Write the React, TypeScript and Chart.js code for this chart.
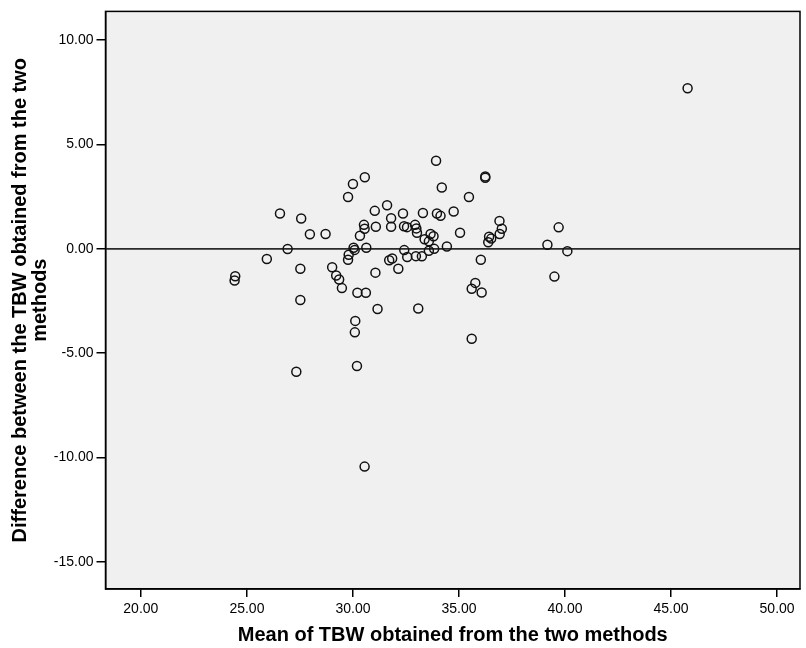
import React, { useEffect, useRef } from "react";
import { Chart, registerables } from "chart.js";

Chart.register(...registerables);

// Mean of TBW obtained from the two methods (x)
const meanValues = [
  24.45, 24.42, 25.94, 26.56, 26.92, 27.56, 27.52, 27.52, 27.33, 27.97,
  28.71, 29.02, 29.21, 29.35, 29.48, 29.77, 30.0, 30.56, 29.8, 29.77,
  30.03, 30.08, 30.63, 30.33, 30.52, 30.55, 31.03, 31.08, 31.61, 31.8,
  31.8, 31.71, 31.85, 32.14, 31.06, 31.16, 30.21, 30.61, 30.11, 30.09,
  30.19, 32.36, 32.41, 32.55, 32.93, 32.99, 33.02, 32.42, 32.56, 32.97,
  33.25, 33.08, 33.3, 33.66, 33.8, 33.38, 33.58, 33.83, 33.58, 33.92,
  34.19, 33.96, 34.13, 34.75, 34.43, 35.05, 35.47, 36.24, 36.24, 36.03,
  35.77, 35.6, 36.07, 35.6, 36.38, 36.42, 36.52, 36.91, 37.02, 36.92,
  39.17, 39.7, 40.11, 39.5, 30.55, 45.78,
];

// Difference between the TBW obtained from the two methods (y)
const diffValues = [
  -1.31, -1.52, -0.49, 1.69, -0.01, 1.45, -0.95, -2.45, -5.89, 0.7,
  0.71, -0.88, -1.28, -1.47, -1.88, 2.48, 3.11, 3.43, -0.28, -0.52,
  0.05, -0.05, 0.05, 0.63, 1.15, 0.96, 1.82, 1.06, 2.09, 1.47,
  1.06, -0.55, -0.46, -0.95, -1.14, -2.88, -2.1, -2.1, -3.45, -4.0,
  -5.61, 1.69, 1.08, 1.04, 1.15, 0.98, 0.77, -0.06, -0.39, -0.35,
  -0.36, -2.86, 1.72, 0.71, 0.6, 0.46, 0.36, 0.0, -0.09, 4.22,
  2.94, 1.69, 1.58, 1.79, 0.11, 0.77, 2.48, 3.47, 3.4, -0.52,
  -1.63, -1.91, -2.09, -4.31, 0.32, 0.58, 0.49, 1.34, 0.96, 0.71,
  0.2, 1.03, -0.11, -1.33, -10.43, 7.69,
];

const xTickValues = [20, 25, 30, 35, 40, 45, 50];
const yTickValues = [-15, -10, -5, 0, 5, 10];
const referenceLineValue = 0;

const xTitle = "Mean of TBW obtained from the two methods";
const yTitle = ["Difference between the TBW obtained from the two", "methods"];

const FONT = "'Liberation Sans', Arial, sans-serif";

const framePlugin = {
  id: "frame",
  beforeDraw(chart: any) {
    const { ctx, chartArea: a } = chart;
    ctx.save();
    ctx.fillStyle = "#f0f0f0";
    ctx.fillRect(a.left, a.top, a.right - a.left, a.bottom - a.top);
    ctx.restore();
  },
  beforeDatasetsDraw(chart: any) {
    const { ctx, chartArea: a, scales } = chart;
    const y = scales.y.getPixelForValue(referenceLineValue);
    ctx.save();
    ctx.strokeStyle = "#2a2a2a";
    ctx.lineWidth = 1.6;
    ctx.beginPath();
    ctx.moveTo(a.left, y);
    ctx.lineTo(a.right, y);
    ctx.stroke();
    ctx.restore();
  },
  afterDatasetsDraw(chart: any) {
    const { ctx, chartArea: a } = chart;
    ctx.save();
    ctx.strokeStyle = "#000";
    ctx.lineWidth = 1.5;
    ctx.strokeRect(a.left, a.top, a.right - a.left, a.bottom - a.top);
    ctx.restore();
  },
};

export default function App() {
  const ref = useRef<HTMLCanvasElement>(null);

  useEffect(() => {
    if (!ref.current) return;
    const points = meanValues.map((m, i) => ({ x: m, y: diffValues[i] }));
    const chart = new Chart(ref.current, {
      type: "scatter",
      data: {
        datasets: [
          {
            data: points,
            pointStyle: "circle",
            pointRadius: 4.5,
            pointBorderWidth: 1.5,
            pointBorderColor: "#111",
            pointBackgroundColor: "rgba(0,0,0,0)",
          },
        ],
      },
      options: {
        responsive: false,
        animation: false,
        layout: { padding: { top: 5, right: 3, left: 0, bottom: 0 } },
        plugins: {
          legend: { display: false },
          tooltip: { enabled: false },
        },
        scales: {
          x: {
            type: "linear",
            min: 18.333,
            max: 51.08,
            afterBuildTicks: (s: any) => {
              s.ticks = xTickValues.map((v) => ({ value: v }));
            },
            afterFit: (s: any) => {
              s.height = 59;
            },
            grid: {
              drawOnChartArea: false,
              drawTicks: true,
              tickLength: 8,
              color: "#000",
              lineWidth: 1.5,
            },
            border: { display: true, color: "#000", width: 1.5 },
            ticks: {
              autoSkip: false,
              maxRotation: 0,
              padding: 4,
              color: "#000",
              font: { family: FONT, size: 14 },
              callback: (v: any) => Number(v).toFixed(2),
            },
            title: {
              display: true,
              text: xTitle,
              color: "#000",
              font: { family: FONT, size: 20, weight: "bold", lineHeight: 1 },
              padding: { top: 0, bottom: 3 },
            },
          },
          y: {
            type: "linear",
            min: -16.293,
            max: 11.374,
            afterBuildTicks: (s: any) => {
              s.ticks = yTickValues.map((v) => ({ value: v }));
            },
            afterFit: (s: any) => {
              s.width = 105.5;
            },
            grid: {
              drawOnChartArea: false,
              drawTicks: true,
              tickLength: 9,
              color: "#000",
              lineWidth: 1.5,
            },
            border: { display: true, color: "#000", width: 1.5 },
            ticks: {
              autoSkip: false,
              padding: 3,
              color: "#000",
              font: { family: FONT, size: 14 },
              callback: (v: any) => Number(v).toFixed(2),
            },
            title: {
              display: true,
              text: yTitle,
              color: "#000",
              font: { family: FONT, size: 20, weight: "bold", lineHeight: 1 },
              padding: { top: 10, bottom: 0 },
            },
          },
        },
      },
      plugins: [framePlugin],
    });
    return () => chart.destroy();
  }, []);

  return (
    <div style={{ position: "absolute", left: 0, top: 0, width: 806, height: 648, background: "#fff" }}>
      <canvas ref={ref} width={806} height={648} />
    </div>
  );
}
